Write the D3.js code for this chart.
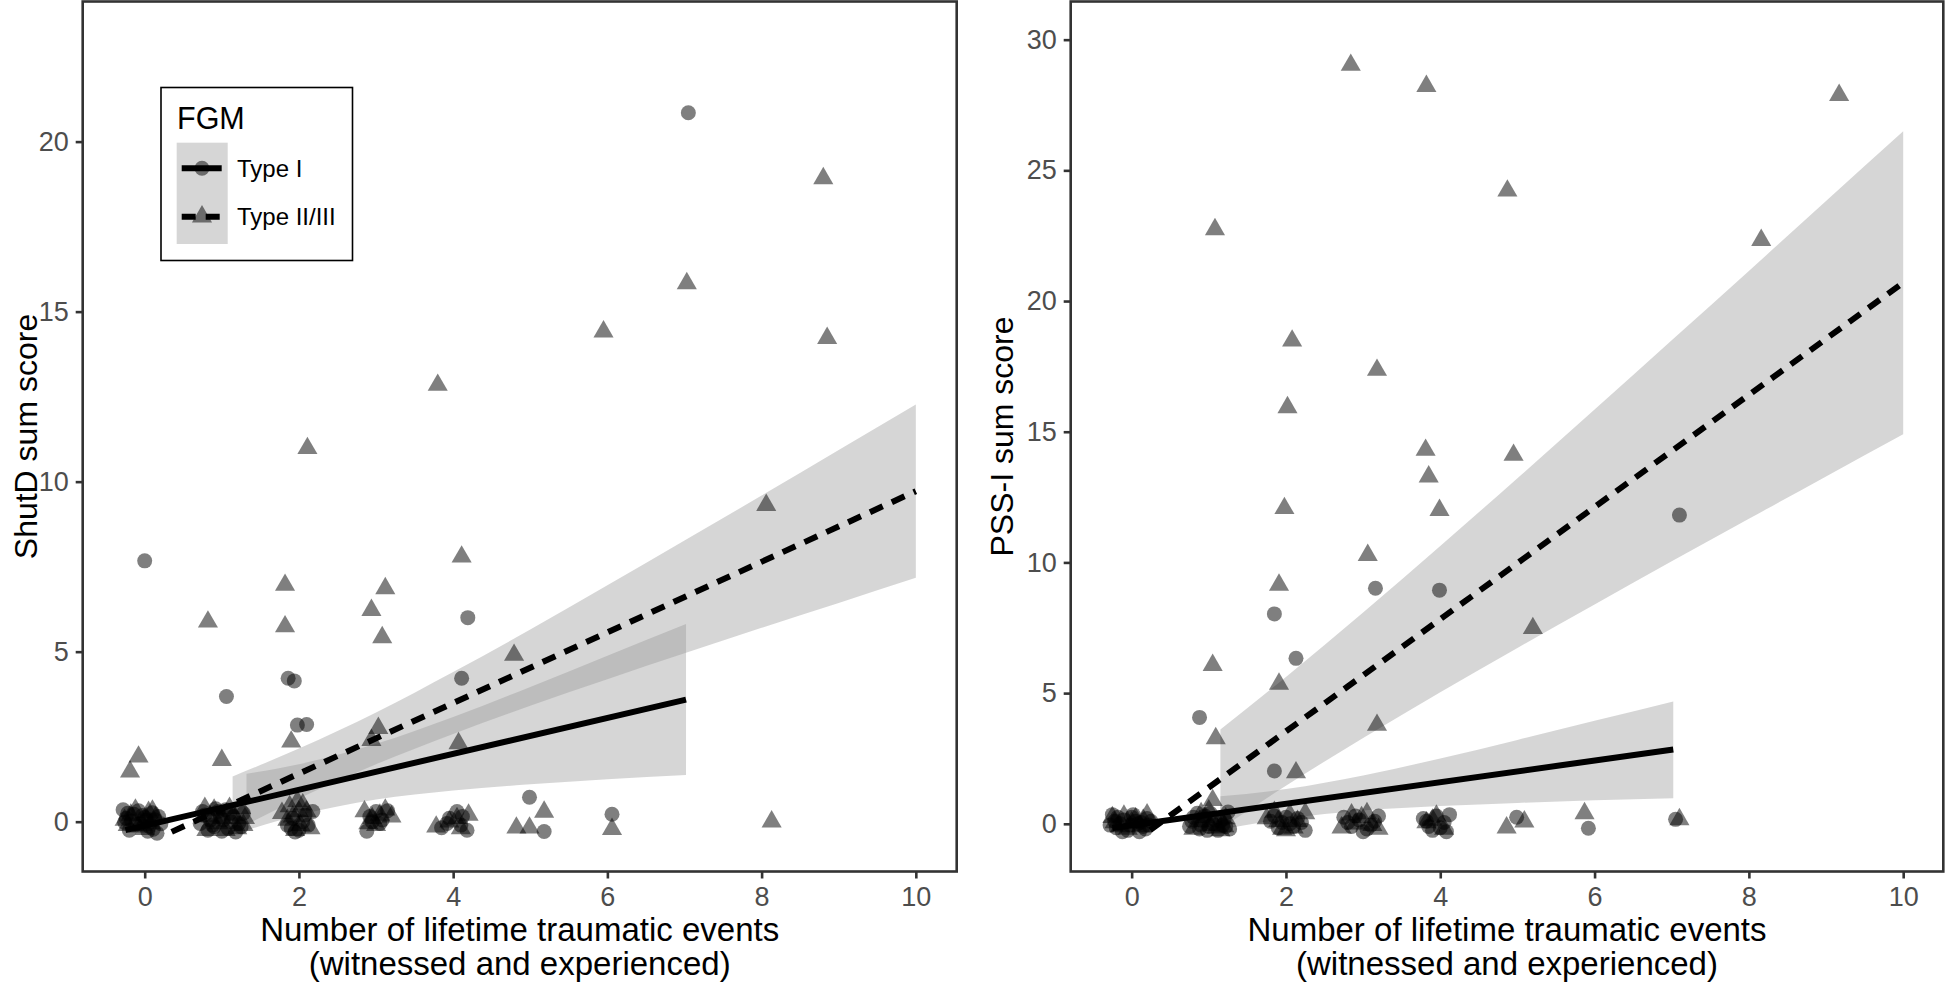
<!DOCTYPE html>
<html>
<head>
<meta charset="utf-8">
<script src="https://cdn.jsdelivr.net/npm/d3@7"></script>
<style>
  body { margin: 0; background: #fff; }
  svg { display: block; }
  text { font-family: "Liberation Sans", Arial, Helvetica, sans-serif; }
</style>
</head>
<body>
<svg id="chart" width="1945" height="985"></svg>
<script>
// ---------------- DATA ----------------
const xTicks = [0, 2, 4, 6, 8, 10];
const shutdTicks = [0, 5, 10, 15, 20];
const pssTicks = [0, 5, 10, 15, 20, 25, 30];
const xTitle = ["Number of lifetime traumatic events", "(witnessed and experienced)"];
const legendTitle = "FGM";
const groups = ["Type I", "Type II/III"];

// ShutD panel points [x (jittered), y]
const shutdTypeI = [
  [7.05, 20.85], [0.0, 7.67], [4.19, 6.0], [1.06, 3.68], [1.86, 4.22], [1.94, 4.14],
  [1.98, 2.84], [2.10, 2.86], [4.11, 4.22], [4.99, 0.72], [5.18, -0.29], [6.06, 0.22],
  [-0.22, 0.25], [-0.12, -0.08], [-0.03, 0.18], [0.06, -0.14], [0.13, 0.06], [-0.26, -0.02],
  [0.02, 0.04], [0.16, -0.34], [-0.08, 0.32], [0.10, 0.26], [-0.17, 0.02], [0.21, -0.06], [-0.20, -0.25],
  [-0.24, 0.10], [-0.14, 0.22], [0.04, -0.28], [0.18, 0.15], [-0.06, -0.05], [0.11, -0.22], [-0.28, 0.35], [0.0, 0.12],
  [0.78, 0.20], [0.88, -0.10], [0.95, 0.30], [1.02, 0.05], [1.08, -0.20], [1.15, 0.15], [1.22, -0.05],
  [0.85, 0.05], [1.00, -0.28], [1.28, 0.25], [0.92, 0.38], [1.18, -0.30], [0.72, -0.05],
  [0.75, 0.30], [0.82, -0.25], [0.98, 0.15], [1.05, 0.35], [1.12, 0.0], [1.25, -0.15], [0.90, -0.15], [1.10, 0.25],
  [1.85, -0.10], [1.92, 0.10], [2.00, -0.25], [2.08, 0.20], [2.18, 0.30], [1.95, -0.30], [2.05, 0.0],
  [1.90, -0.20], [2.12, -0.10],
  [2.88, -0.28], [2.92, 0.15], [3.00, 0.30], [3.08, 0.05], [3.15, 0.32], [3.05, -0.05], [2.95, 0.0],
  [3.85, -0.18], [3.92, -0.05], [4.05, 0.30], [4.10, -0.10], [4.18, -0.25], [4.12, 0.15], [3.95, 0.10]
];
const shutdTypeII = [
  [8.80, 18.92], [7.03, 15.83], [5.95, 14.41], [8.85, 14.22], [3.80, 12.84], [2.11, 10.98],
  [8.06, 9.31], [4.11, 7.79], [1.82, 6.96], [3.12, 6.86], [2.94, 6.22], [0.82, 5.88],
  [1.82, 5.74], [3.08, 5.42], [4.79, 4.90], [3.03, 2.75], [2.94, 2.40], [1.90, 2.35],
  [4.07, 2.30], [-0.08, 1.91], [-0.19, 1.47], [1.00, 1.81], [8.13, 0.0], [5.18, 0.29],
  [4.82, -0.18], [4.99, -0.18], [6.06, -0.22],
  [-0.18, 0.20], [-0.08, -0.15], [0.05, 0.28], [0.0, -0.22], [-0.26, 0.05], [0.14, 0.12], [0.08, -0.05],
  [-0.22, -0.10], [-0.12, 0.35], [0.02, 0.10], [0.10, 0.32], [-0.02, -0.10],
  [0.80, -0.25], [0.90, 0.35], [1.00, 0.10], [1.10, 0.40], [1.20, -0.20], [1.30, 0.10], [0.95, -0.05], [1.25, 0.40],
  [0.85, 0.15], [1.05, -0.25], [1.15, 0.20], [0.78, 0.40], [1.28, -0.10],
  [1.78, 0.25], [1.88, 0.45], [1.98, 0.60], [2.02, -0.10], [2.10, 0.30], [1.95, -0.25], [2.15, -0.20], [1.85, 0.05], [2.05, 0.50],
  [1.92, 0.15], [2.00, 0.30],
  [2.85, 0.30], [2.95, 0.10], [3.05, 0.20], [3.12, 0.35], [3.20, 0.15], [2.90, -0.05], [3.00, -0.10],
  [3.78, -0.15], [3.95, 0.0], [4.05, 0.10], [4.20, 0.20], [4.10, -0.20]
];
// PSS-I panel points
const pssTypeI = [
  [7.10, 11.81], [3.16, 9.01], [3.99, 8.94], [1.85, 8.03], [2.13, 6.33], [0.88, 4.07],
  [1.85, 2.02], [4.99, 0.25], [5.92, -0.17], [7.05, 0.17],
  [-0.25, 0.35], [-0.15, 0.0], [-0.05, -0.25], [0.05, 0.10], [0.15, -0.10], [-0.20, -0.15], [0.0, 0.25],
  [0.10, -0.30], [-0.10, 0.15], [0.20, 0.20], [-0.28, -0.05], [0.08, 0.0], [0.25, 0.10],
  [-0.22, 0.10], [-0.12, -0.30], [0.02, 0.35], [0.12, 0.05], [-0.02, -0.05], [0.18, -0.20], [-0.18, 0.25], [0.22, -0.05],
  [0.78, 0.10], [0.88, -0.20], [0.95, 0.30], [1.05, 0.0], [1.12, -0.25], [1.20, 0.20], [1.25, 0.45],
  [0.85, 0.40], [1.00, -0.10], [1.18, -0.05], [0.92, 0.10], [1.27, -0.20],
  [0.80, 0.25], [0.90, -0.05], [1.02, 0.40], [1.08, 0.15], [1.15, 0.10], [0.75, -0.10], [1.22, -0.10], [0.98, -0.25],
  [1.80, 0.10], [1.90, -0.15], [2.00, 0.25], [2.10, -0.10], [2.20, 0.05], [1.85, 0.30], [2.25, -0.25], [2.05, 0.0],
  [1.95, 0.05], [2.15, 0.20],
  [2.75, 0.25], [2.85, -0.10], [2.95, 0.15], [3.05, -0.20], [3.15, 0.10], [2.90, 0.30], [3.10, -0.05], [3.00, -0.30],
  [2.80, 0.05], [3.20, 0.30],
  [3.78, 0.20], [3.85, -0.10], [3.95, 0.30], [4.05, 0.05], [4.12, 0.35], [3.90, -0.25], [4.00, -0.15],
  [4.08, -0.30], [3.82, 0.10]
];
const pssTypeII = [
  [2.84, 29.03], [3.82, 28.22], [9.17, 27.88], [4.87, 24.22], [1.08, 22.74], [8.16, 22.33],
  [2.08, 18.48], [3.18, 17.36], [2.02, 15.93], [3.81, 14.30], [4.95, 14.11], [3.85, 13.28],
  [3.99, 12.0], [1.98, 12.07], [3.06, 10.28], [1.91, 9.14], [5.20, 7.48], [1.05, 6.07],
  [1.91, 5.35], [3.18, 3.78], [1.09, 3.27], [2.13, 1.96], [5.87, 0.40], [5.09, 0.08],
  [4.86, -0.15], [7.10, 0.17],
  [-0.22, 0.05], [-0.10, 0.30], [0.05, 0.20], [0.12, -0.10], [-0.05, -0.20], [0.20, 0.35],
  [-0.15, -0.10], [0.0, 0.05], [0.15, 0.15], [-0.25, 0.25],
  [0.80, -0.20], [0.95, 0.25], [1.05, 0.90], [1.10, -0.15], [1.22, 0.20], [1.00, 0.50], [1.15, -0.25],
  [0.88, 0.10], [1.02, -0.05], [1.20, -0.10], [0.90, 0.40],
  [1.75, 0.20], [1.85, 0.45], [1.95, -0.20], [2.05, 0.35], [2.15, 0.10], [2.25, 0.40], [2.00, -0.25],
  [1.90, 0.10], [2.10, -0.15],
  [2.72, -0.15], [2.85, 0.35], [2.98, 0.25], [3.12, -0.05], [3.20, -0.20], [3.05, 0.40], [2.90, 0.0],
  [3.82, 0.05], [3.95, 0.30], [4.05, -0.20], [3.90, 0.15]
];

// Fitted lines (endpoints)
const shutdFitI = [[-0.25, -0.25], [7.02, 3.59]];
const shutdFitII = [[0.35, -0.30], [10.0, 9.72]];
const pssFitI = [[-0.25, -0.16], [7.02, 2.84]];
const pssFitII = [[0.24, -0.24], [10.0, 20.7]];

// Confidence ribbons [x, lower, upper]
const shutdBandI = [
  [1.32, -0.25, 1.41], [2, 0.19, 1.69], [3, 0.65, 2.29], [4, 0.92, 3.08],
  [5, 1.10, 3.96], [6, 1.25, 4.88], [7.02, 1.37, 5.81]
];
const shutdBandII = [
  [1.14, -0.29, 1.33], [2, 0.68, 2.15], [3, 1.69, 3.21], [4, 2.58, 4.40], [5, 3.41, 5.65],
  [6, 4.19, 6.95], [7, 4.95, 8.27], [8, 5.70, 9.59], [9, 6.43, 10.93], [10, 7.17, 12.27]
];
const pssBandI = [
  [1.15, -0.22, 1.05], [2, 0.20, 1.33], [3, 0.51, 1.85], [4, 0.68, 2.50],
  [5, 0.80, 3.21], [6, 0.90, 3.94], [7.02, 0.98, 4.68]
];
const pssBandII = [
  [1.15, -0.19, 3.61], [2, 1.46, 5.62], [3, 3.28, 8.08], [4, 5.03, 10.63], [5, 6.73, 13.22],
  [6, 8.39, 15.85], [7, 10.04, 18.5], [8, 11.67, 21.15], [9, 13.29, 23.83], [10, 14.9, 26.5]
];

// ---------------- DRAWING ----------------
const svg = d3.select("#chart");
svg.append("rect").attr("width", 1945).attr("height", 985).attr("fill", "#fff");

const PT = 1.5, PB = 871.5;
const panels = [
  { id: "L", x0: 82.7, x1: 956.7, xDom: [-0.804, 10.53], yDom: [-1.465, 24.12],
    yTicks: shutdTicks, yTitle: "ShutD sum score", yTitleX: 37,
    ptsI: shutdTypeI, ptsII: shutdTypeII, fitI: shutdFitI, fitII: shutdFitII,
    bandI: shutdBandI, bandII: shutdBandII },
  { id: "R", x0: 1070.7, x1: 1943.3, xDom: [-0.79, 10.52], yDom: [-1.825, 31.46],
    yTicks: pssTicks, yTitle: "PSS-I sum score", yTitleX: 1013,
    ptsI: pssTypeI, ptsII: pssTypeII, fitI: pssFitI, fitII: pssFitII,
    bandI: pssBandI, bandII: pssBandII }
];

const ribbonFill = "#999999", ribbonAlpha = 0.4;
const ptAlpha = 0.5;
const lineW = 6;
const dash = "14,10";
const triSize = 175;

panels.forEach(p => {
  const x = d3.scaleLinear().domain(p.xDom).range([p.x0, p.x1]);
  const y = d3.scaleLinear().domain(p.yDom).range([PB, PT]);

  const defs = svg.append("defs");
  defs.append("clipPath").attr("id", "clip" + p.id)
    .append("rect").attr("x", p.x0).attr("y", PT).attr("width", p.x1 - p.x0).attr("height", PB - PT);

  const g = svg.append("g").attr("clip-path", `url(#clip${p.id})`);

  const area = d3.area().x(d => x(d[0])).y0(d => y(d[1])).y1(d => y(d[2])).curve(d3.curveMonotoneX);
  [p.bandI, p.bandII].forEach(b => {
    g.append("path").attr("d", area(b)).attr("fill", ribbonFill).attr("fill-opacity", ribbonAlpha);
  });

  g.selectAll("circle.pI").data(p.ptsI).join("circle")
    .attr("class", "pI")
    .attr("cx", d => x(d[0])).attr("cy", d => y(d[1])).attr("r", 7.5)
    .attr("fill", "#000").attr("fill-opacity", ptAlpha);

  const tri = d3.symbol(d3.symbolTriangle, triSize);
  g.selectAll("path.pII").data(p.ptsII).join("path")
    .attr("class", "pII")
    .attr("d", tri)
    .attr("transform", d => `translate(${x(d[0])},${y(d[1])})`)
    .attr("fill", "#000").attr("fill-opacity", ptAlpha);

  const line = d3.line().x(d => x(d[0])).y(d => y(d[1]));
  g.append("path").attr("d", line(p.fitI)).attr("stroke", "#000").attr("stroke-width", lineW)
    .attr("fill", "none");
  g.append("path").attr("d", line(p.fitII)).attr("stroke", "#000").attr("stroke-width", lineW)
    .attr("fill", "none").attr("stroke-dasharray", dash);

  // panel border
  svg.append("rect").attr("x", p.x0).attr("y", PT).attr("width", p.x1 - p.x0).attr("height", PB - PT)
    .attr("fill", "none").attr("stroke", "#333333").attr("stroke-width", 2.6);

  // axes
  const xAxis = d3.axisBottom(x).tickValues(xTicks).tickSize(7).tickPadding(8).tickFormat(d3.format("d"));
  const gx = svg.append("g").attr("transform", `translate(0,${PB})`).call(xAxis);
  const yAxis = d3.axisLeft(y).tickValues(p.yTicks).tickSize(7).tickPadding(7).tickFormat(d3.format("d"));
  const gy = svg.append("g").attr("transform", `translate(${p.x0},0)`).call(yAxis);
  [gx, gy].forEach(a => {
    a.select(".domain").remove();
    a.selectAll(".tick line").attr("stroke", "#333333").attr("stroke-width", 2.6);
    a.selectAll(".tick text").attr("fill", "#4d4d4d").attr("font-size", 27)
      .style("font-family", "'Liberation Sans', Arial, sans-serif");
  });
  gx.selectAll(".tick text").attr("dy", "0.72em");

  // titles
  const cx = (p.x0 + p.x1) / 2;
  xTitle.forEach((t, i) => {
    svg.append("text").attr("x", cx).attr("y", 941 + i * 34).attr("text-anchor", "middle")
      .attr("font-size", 33).attr("fill", "#000").text(t);
  });
  svg.append("text").attr("transform", `translate(${p.yTitleX},${(PT + PB) / 2}) rotate(-90)`)
    .attr("text-anchor", "middle").attr("font-size", 32).attr("fill", "#000").text(p.yTitle);
});

// ---------------- LEGEND ----------------
const lg = svg.append("g");
lg.append("rect").attr("x", 161).attr("y", 87.5).attr("width", 191.5).attr("height", 173)
  .attr("fill", "#fff").attr("stroke", "#000").attr("stroke-width", 1.6);
lg.append("text").attr("x", 177).attr("y", 129).attr("font-size", 30.5).attr("fill", "#000").text(legendTitle);
lg.append("rect").attr("x", 176.7).attr("y", 142.7).attr("width", 51).attr("height", 101.3)
  .attr("fill", ribbonFill).attr("fill-opacity", ribbonAlpha);
const keyY = [168.3, 216.7];
groups.forEach((grp, i) => {
  const ky = keyY[i];
  const ln = lg.append("line").attr("x1", 181.7).attr("x2", 221.7).attr("y1", ky).attr("y2", ky)
    .attr("stroke", "#000").attr("stroke-width", lineW);
  if (i === 1) ln.attr("stroke-dasharray", dash);
  if (i === 0) {
    lg.append("circle").attr("cx", 202).attr("cy", ky).attr("r", 7.5).attr("fill", "#000").attr("fill-opacity", ptAlpha);
  } else {
    lg.append("path").attr("d", d3.symbol(d3.symbolTriangle, triSize)).attr("transform", `translate(202,${ky})`)
      .attr("fill", "#000").attr("fill-opacity", ptAlpha);
  }
  lg.append("text").attr("x", 237).attr("y", ky + 8.5).attr("font-size", 24).attr("fill", "#000").text(grp);
});
</script>
</body>
</html>
